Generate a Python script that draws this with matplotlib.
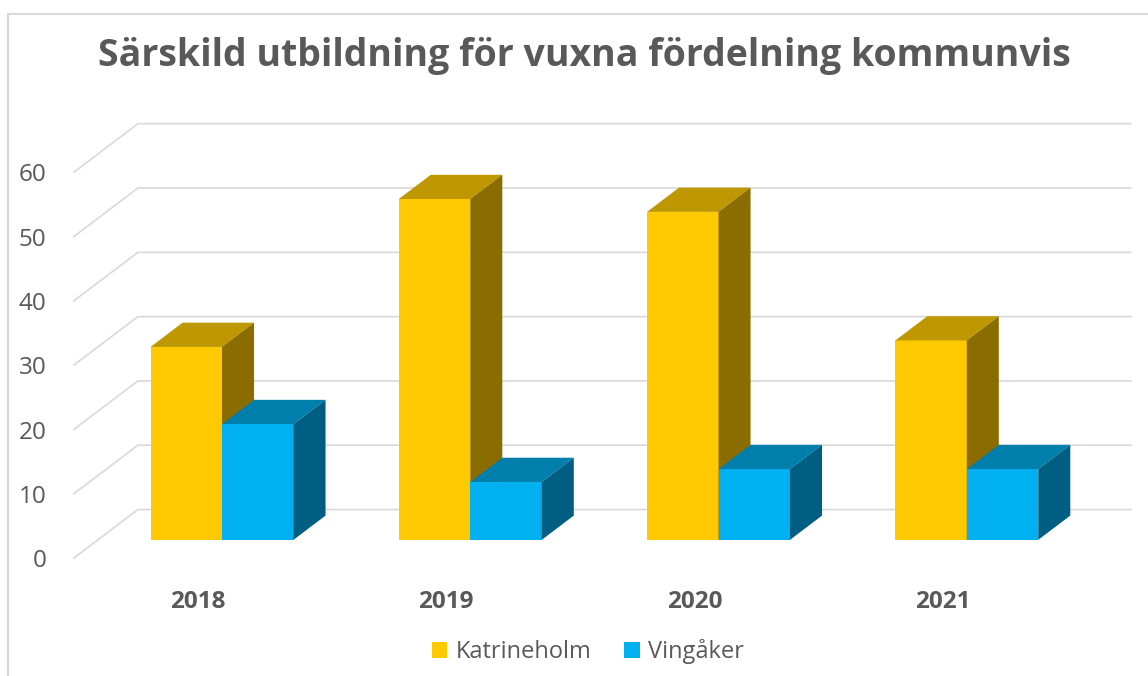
import matplotlib.pyplot as plt
from matplotlib.patches import Polygon, Patch
from matplotlib.lines import Line2D

years = ['2018', '2019', '2020', '2021']
katrineholm = [30, 53, 51, 31]
vingaker = [18, 9, 11, 11]
yticks = [0, 10, 20, 30, 40, 50, 60]

series = [('Katrineholm', katrineholm, '#FFC900', '#BF9700', '#8A6C00'),
          ('Vingåker', vingaker, '#00B0F0', '#007FAD', '#005E83')]

plt.rcParams['font.family'] = ['Open Sans', 'DejaVu Sans']
grey = '#595959'
grid_c = '#D9D9D9'

# 3d look: full depth offset in data units
DX = 0.258
DY = 7.54
bar_w = 0.288
d_front, d_back = 0.375, 0.875

fig = plt.figure(figsize=(11.48, 6.76), dpi=100)
ax = fig.add_axes([0, 0, 1, 1])
ax.set_xlim(-0.7976, 3.8268)
ax.set_ylim(-18.35, 86.78)
ax.axis('off')

# border of chart area
fig.add_artist(Line2D([8 / 1148, 1.01], [1 - 14 / 676] * 2, color=grid_c, lw=1.5))
fig.add_artist(Line2D([8 / 1148] * 2, [-0.01, 1 - 14 / 676], color=grid_c, lw=1.5))

# gridlines: side wall diagonal + back wall
x_left, x_right = -0.5, len(years) - 0.5
for t in yticks:
    ax.plot([x_left, x_left + DX, x_right + DX], [t, t + DY, t + DY],
            color=grid_c, lw=1.2, zorder=1)
    ax.text(x_left - 0.11, t - 0.5, str(t), ha='right', va='center',
            fontsize=17.5, color=grey)

for i, yr in enumerate(years):
    ax.text(i, -6.84, yr, ha='center', va='center', fontsize=17.5,
            fontweight='bold', color=grey)

fx = d_front * DX
fy = d_front * DY
ddx = (d_back - d_front) * DX
ddy = (d_back - d_front) * DY
z = 2
for i in range(len(years)):
    for k, (name, vals, c_front, c_top, c_side) in enumerate(series):
        v = vals[i]
        x0 = i - bar_w + k * bar_w + fx
        x1 = x0 + bar_w
        ax.bar(x0, v, width=bar_w, bottom=fy, align='edge', color=c_front,
               zorder=z, linewidth=0)
        top = [(x0, fy + v), (x1, fy + v), (x1 + ddx, fy + v + ddy), (x0 + ddx, fy + v + ddy)]
        side = [(x1, fy), (x1 + ddx, fy + ddy), (x1 + ddx, fy + v + ddy), (x1, fy + v)]
        ax.add_patch(Polygon(top, closed=True, facecolor=c_top, lw=0, zorder=z))
        ax.add_patch(Polygon(side, closed=True, facecolor=c_side, lw=0, zorder=z))
        z += 1

fig.text(0.5087, 1 - 56 / 676, 'Särskild utbildning för vuxna fördelning kommunvis',
         ha='center', va='center', fontsize=27, fontweight='bold', color=grey)

handles = [Patch(facecolor=s[2], label=s[0]) for s in series]
fig.legend(handles=handles, loc='center', bbox_to_anchor=(588 / 1148, 1 - 652 / 676),
           ncol=2, frameon=False, fontsize=17, handlelength=0.65, handleheight=0.65,
           handletextpad=0.35, columnspacing=1.4, labelcolor=grey)

fig.savefig('out.png', dpi=100)
